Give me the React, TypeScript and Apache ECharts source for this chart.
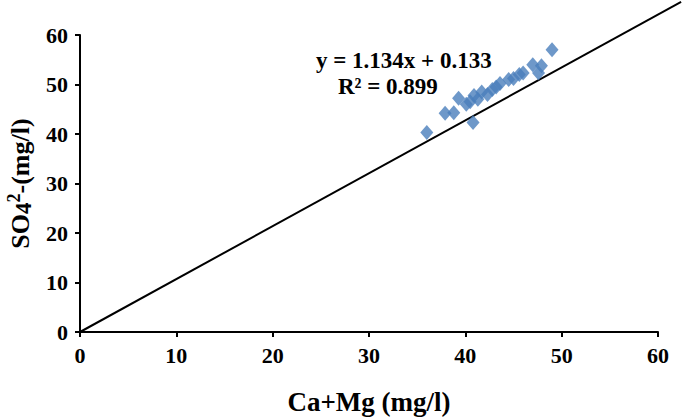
import React, { useEffect, useRef } from "react";
import * as echarts from "echarts";

const caMg = [36.0, 37.9, 38.8, 39.3, 40.1, 40.5, 40.8, 40.9, 41.3, 41.7, 42.3, 42.8, 43.2, 43.6, 44.5, 45.0, 45.6, 46.0, 47.0, 47.6, 47.9, 49.0];
const so4 = [40.3, 44.2, 44.3, 47.2, 46.0, 46.5, 42.3, 47.8, 47.0, 48.5, 48.0, 49.0, 49.5, 50.2, 51.0, 51.2, 52.0, 52.3, 54.0, 52.3, 53.8, 57.0];
const lineX = [0, 62.4];
const lineY = [0, 66.7];
const equationText = "y = 1.134x + 0.133";
const r2Text = "R² = 0.899";

const FONT = "'Liberation Serif', 'Times New Roman', serif";

export default function App() {
  const ref = useRef<HTMLDivElement>(null);
  useEffect(() => {
    if (!ref.current) return;
    const chart = echarts.init(ref.current, null, { renderer: "svg" });
    chart.setOption({
      animation: false,
      backgroundColor: "#ffffff",
      grid: { left: 80, right: 27, top: 35, bottom: 85, containLabel: false, outerBoundsMode: "none" },
      xAxis: {
        type: "value",
        min: 0,
        max: 60,
        interval: 10,
        name: "Ca+Mg (mg/l)",
        nameLocation: "middle",
        nameGap: 56,
        nameTextStyle: { fontFamily: FONT, fontWeight: "bold", fontSize: 27, color: "#000" },
        axisLine: { lineStyle: { color: "#000", width: 2 } },
        axisTick: { show: true, length: 5, lineStyle: { color: "#000", width: 2 } },
        axisLabel: { fontFamily: FONT, fontWeight: "bold", fontSize: 22, color: "#000", margin: 12 },
        splitLine: { show: false },
      },
      yAxis: {
        type: "value",
        min: 0,
        max: 60,
        interval: 10,
        name: "{a|SO}{b|4}{c|2}{a|-(mg/l)}",
        nameLocation: "middle",
        nameGap: 42,
        nameTextStyle: {
          fontFamily: FONT,
          fontWeight: "bold",
          fontSize: 26,
          color: "#000",
          rich: {
            a: { fontFamily: FONT, fontWeight: "bold", fontSize: 26, color: "#000", lineHeight: 30 },
            b: { fontFamily: FONT, fontWeight: "bold", fontSize: 23, color: "#000", lineHeight: 30, verticalAlign: "bottom" },
            c: { fontFamily: FONT, fontWeight: "bold", fontSize: 18, color: "#000", lineHeight: 30, verticalAlign: "top" },
          },
        },
        axisLine: { show: true, lineStyle: { color: "#000", width: 2 } },
        axisTick: { show: true, length: 5, lineStyle: { color: "#000", width: 2 } },
        axisLabel: { fontFamily: FONT, fontWeight: "bold", fontSize: 22, color: "#000", margin: 12 },
        splitLine: { show: false },
      },
      series: [
        {
          type: "scatter",
          data: caMg.map((x, i) => [x, so4[i]]),
          symbol: "diamond",
          symbolSize: [13, 15],
          itemStyle: { color: "#4a7ebb" },
          z: 3,
        },
      ],
    });
    const p0 = chart.convertToPixel({ gridIndex: 0 }, [lineX[0], lineY[0]]) as number[];
    const p1 = chart.convertToPixel({ gridIndex: 0 }, [lineX[1], lineY[1]]) as number[];
    chart.setOption({
      graphic: [
        {
          type: "line",
          shape: { x1: p0[0], y1: p0[1], x2: p1[0], y2: p1[1] },
          style: { stroke: "#000", lineWidth: 2 },
          z: 1,
        },
        {
          type: "text",
          left: 316,
          top: 49,
          style: { text: equationText, fontFamily: FONT, fontWeight: "bold", fontSize: 23, fill: "#000" },
          z: 10,
        },
        {
          type: "text",
          left: 338,
          top: 75,
          style: { text: r2Text, fontFamily: FONT, fontWeight: "bold", fontSize: 23, fill: "#000" },
          z: 10,
        },
      ],
    });
    return () => chart.dispose();
  }, []);
  return <div ref={ref} style={{ width: 685, height: 417, position: "absolute", left: 0, top: 0 }} />;
}
